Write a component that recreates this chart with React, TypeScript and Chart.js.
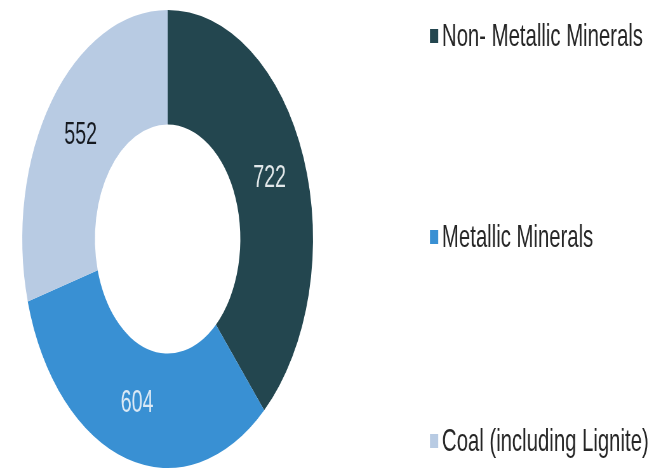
import React, { useEffect, useRef } from "react";
import { Chart, registerables } from "chart.js";

Chart.register(...registerables);

const categories = ["Non- Metallic Minerals", "Metallic Minerals", "Coal (including Lignite)"];
const values = [722, 604, 552];
const colors = ["#23464f", "#3990d3", "#b8cbe3"];
const labelColors = ["#e2e8ea", "#dbe9f5", "#161a20"];

const SQUISH = 0.635;
const VIEW_W = 654;
const VIEW_H = 469;
const W = Math.round(VIEW_W / SQUISH);
const FONT = "'Liberation Sans', Arial, sans-serif";

const valueLabels = {
  id: "valueLabels",
  afterDatasetsDraw(chart: any) {
    const ctx = chart.ctx;
    const meta = chart.getDatasetMeta(0);
    ctx.save();
    ctx.font = `31px ${FONT}`;
    ctx.textAlign = "center";
    ctx.textBaseline = "middle";
    meta.data.forEach((el: any, i: number) => {
      const p = el.tooltipPosition();
      ctx.fillStyle = labelColors[i];
      ctx.fillText(String(chart.data.datasets[0].data[i]), p.x, p.y);
    });
    ctx.restore();
  },
};

const sideLegend = {
  id: "sideLegend",
  afterDraw(chart: any) {
    const ctx = chart.ctx;
    const ys = [36, 237, 441];
    const boxX = 430 / SQUISH;
    const textX = 442 / SQUISH;
    ctx.save();
    ctx.font = `32px ${FONT}`;
    ctx.textAlign = "left";
    ctx.textBaseline = "middle";
    chart.data.labels.forEach((lab: string, i: number) => {
      const y = ys[i];
      ctx.fillStyle = chart.data.datasets[0].backgroundColor[i];
      ctx.fillRect(boxX, y - 7, 13, 14);
      ctx.fillStyle = "#262626";
      ctx.fillText(lab, textX, y + 1);
    });
    ctx.restore();
  },
};

export default function App() {
  const ref = useRef<HTMLCanvasElement | null>(null);
  useEffect(() => {
    const canvas = ref.current!;
    const chart = new Chart(canvas, {
      type: "doughnut",
      data: {
        labels: categories,
        datasets: [
          {
            data: values,
            backgroundColor: colors,
            borderWidth: 0,
          },
        ],
      },
      options: {
        responsive: false,
        animation: false,
        devicePixelRatio: 1,
        cutout: "50%",
        layout: { padding: { left: 0, right: W - 528, top: 10, bottom: 1 } },
        plugins: {
          legend: { display: false },
          tooltip: { enabled: false },
        },
      },
      plugins: [valueLabels, sideLegend],
    });
    return () => chart.destroy();
  }, []);
  return (
    <div style={{ position: "absolute", left: 0, top: 0, width: VIEW_W, height: VIEW_H, background: "#fff" }}>
      <canvas
        ref={ref}
        width={W}
        height={VIEW_H}
        style={{ width: VIEW_W + "px", height: VIEW_H + "px", display: "block" }}
      />
    </div>
  );
}
